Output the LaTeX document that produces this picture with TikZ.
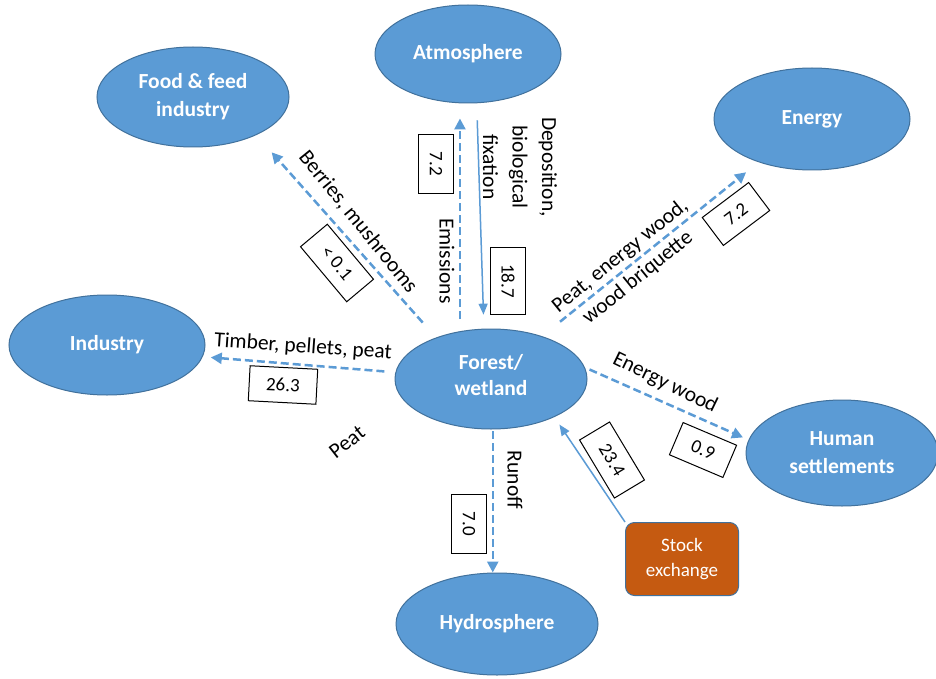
\documentclass[tikz,border=0pt]{standalone}
\usepackage{fontspec}
\setmainfont{Carlito}
\usetikzlibrary{arrows.meta,shapes.geometric}

\definecolor{ellfill}{HTML}{5B9BD5}
\definecolor{elldraw}{HTML}{41719C}
\definecolor{stockfill}{HTML}{C55A11}
\definecolor{flowblue}{HTML}{5B9BD5}

\tikzset{
  sphere/.style={ellipse, fill=ellfill, draw=elldraw, line width=1pt, text=white,
    font=\fontsize{21.5}{28}\selectfont\bfseries, align=center, inner sep=0pt},
  market/.style={rectangle, rounded corners=9pt, fill=stockfill, draw=elldraw, line width=1pt,
    text=white, font=\fontsize{19}{25}\selectfont, align=center,
    minimum width=113pt, minimum height=73pt},
  flowlabel/.style={font=\fontsize{21.5}{28}\selectfont, align=center, inner sep=0pt},
  valbox/.style={draw=black, line width=1pt, fill=white, font=\fontsize{19}{23}\selectfont,
    minimum height=35pt, inner xsep=17pt, inner ysep=3pt},
  dashflow/.style={draw=flowblue, line width=2.5pt, dash pattern=on 8pt off 4pt,
    -{Triangle[length=11pt,width=11pt]}},
  solidflow/.style={draw=flowblue, line width=1.5pt, -{Triangle[length=11pt,width=9pt]}},
}

\begin{document}
\begin{tikzpicture}[x=1pt,y=-1pt]
  % canvas
  \fill[white] (0,0) rectangle (936,679);
  \useasboundingbox (0,0) rectangle (936,679);

  % compartments
  \node[sphere, minimum width=192pt, minimum height=100pt] (food) at (193,97) {Food \& feed\\industry};
  \node[sphere, minimum width=186pt, minimum height=98pt] (atmo) at (468,54) {Atmosphere};
  \node[sphere, minimum width=196pt, minimum height=102pt] (energy) at (812,119) {Energy};
  \node[sphere, minimum width=196pt, minimum height=100pt] (industry) at (107,345) {Industry};
  \node[sphere, minimum width=192pt, minimum height=100pt] (forest) at (491,379) {};
  \node[font=\fontsize{21.5}{26}\selectfont\bfseries, text=white, align=center] (forestText) at (491,375) {Forest/\\wetland};
  \node[sphere, minimum width=192pt, minimum height=106pt] (human) at (842,453) {Human\\settlements};
  \node[sphere, minimum width=202pt, minimum height=102pt] (hydro) at (497,624) {Hydrosphere};
  \node[market] (stock) at (682,559) {Stock\\exchange};

  % flows
  \draw[dashflow, shorten <=20pt, shorten >=23pt] (forest.143) -- (food.-31);
  \draw[dashflow, shorten <=12pt, shorten >=15pt] (forest.123) -- (forest.123 |- atmo.south);
  \draw[solidflow, shorten <=17pt, shorten >=14pt] (atmo.-80) -- (forest.98);
  \draw[dashflow, shorten <=23pt, shorten >=16pt] (forest.40) -- (energy.219);
  \draw[dashflow, shorten <=11pt, shorten >=8pt] (forest.176) -- (industry.-7);
  \draw[dashflow, shorten <=5pt, shorten >=6pt] (forest.7) -- (human.172);
  \draw[dashflow, shorten <=2pt] (forest.-88) -- (forest.-88 |- hydro.north);
  \draw[solidflow, shorten >=9pt] (stock.north west) -- (forest.-31);

  % flow names
  \node[flowlabel, rotate=-51] (lblBerries) at (358,222) {Berries, mushrooms};
  \node[flowlabel, rotate=-90] (lblEmis) at (447,261) {Emissions};
  \node[flowlabel, rotate=-90, font=\fontsize{21.5}{29.5}\selectfont] (lblDepo) at (520,167) {Deposition,\\biological\\fixation};
  \node[flowlabel, rotate=39] (lblEnergy) at (629,267) {Peat, energy wood,\\wood briquette};
  \node[flowlabel, rotate=-4] (lblInd) at (303,347) {Timber, pellets, peat};
  \node[flowlabel, rotate=38] (lblPeat) at (347,442) {Peat};
  \node[flowlabel, rotate=-26] (lblHuman) at (665,383) {Energy wood};
  \node[flowlabel, rotate=-90] (lblRunoff) at (515,480) {Runoff};

  % flow values
  \node[valbox, rotate=-50] (valBerries) at (337,263) {< 0.1};
  \node[valbox, rotate=-90] (valEmis) at (436,164) {7.2};
  \node[valbox, rotate=-90] (valDepo) at (508,281) {18.7};
  \node[valbox, rotate=37] (valEnergy) at (736,214) {7.2};
  \node[valbox, rotate=-3] (valInd) at (283,385) {26.3};
  \node[valbox, rotate=-23] (valHuman) at (703,450) {0.9};
  \node[valbox, rotate=-59] (valStock) at (612,460) {23.4};
  \node[valbox, rotate=-90] (valRunoff) at (469,524) {7.0};
\end{tikzpicture}
\end{document}
